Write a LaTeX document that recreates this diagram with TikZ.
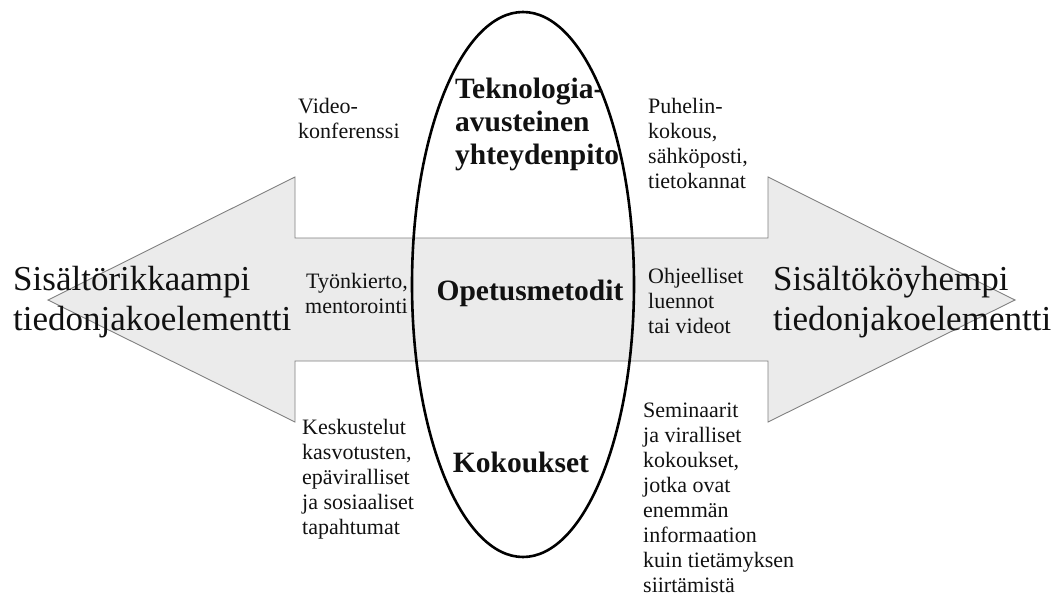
\documentclass[tikz,border=0pt]{standalone}
\usepackage{fontspec}
\setmainfont{Liberation Serif}
\definecolor{arrowfill}{HTML}{EBEBEB}
\definecolor{arrowline}{HTML}{808080}
\definecolor{ink}{HTML}{111111}
\begin{document}
\begin{tikzpicture}[x=1pt,y=-1pt,
  small/.style={font=\fontsize{22}{25}\selectfont, inner sep=0pt, text=ink, align=left},
  big/.style={font=\fontsize{35}{40}\selectfont, inner sep=0pt, text=ink, align=left},
  heading/.style={font=\bfseries\fontsize{29.5}{33}\selectfont, inner sep=0pt, text=ink, align=left}]
\useasboundingbox (0,0) rectangle (1058,597);

% double-headed block arrow
\draw[arrowline, fill=arrowfill, line width=0.9pt, line join=miter]
  (48,300) -- (295,177) -- (295,238) -- (768,238) -- (768,177) -- (1015,300)
  -- (768,422) -- (768,361) -- (295,361) -- (295,422) -- cycle;

% central ellipse
\draw[black, line width=2.6pt] (523,284.5) ellipse [x radius=111, y radius=272.5];

% end labels (anchored on the baseline of their last line)
\node[big, anchor=base west] (rich) at (13,330) {Sisältörikkaampi\\tiedonjakoelementti};
\node[big, anchor=base west] (poor) at (773,330) {Sisältököyhempi\\tiedonjakoelementti};

% category headings
\node[heading, anchor=base west] (tech) at (455,164) {Teknologia-\\avusteinen\\yhteydenpito};
\node[heading, anchor=base] (teach) at (530,300) {Opetusmetodit};
\node[heading, anchor=base] (meet) at (521,472) {Kokoukset};

% examples, richer side
\node[small, anchor=base west] (video) at (298,138) {Video-\\konferenssi};
\node[small, anchor=base east, align=right] (rotation) at (408,313) {Työnkierto,\\mentorointi};
\node[small, anchor=base west] (talks) at (302,534) {Keskustelut\\kasvotusten,\\epäviralliset\\ja sosiaaliset\\tapahtumat};

% examples, poorer side
\node[small, anchor=base west] (phone) at (648,188) {Puhelin-\\kokous,\\sähköposti,\\tietokannat};
\node[small, anchor=base west] (lectures) at (648,333) {Ohjeelliset\\luennot\\tai videot};
\node[small, anchor=base west] (seminars) at (643,592) {Seminaarit\\ja viralliset\\kokoukset,\\jotka ovat\\enemmän\\informaation\\kuin tietämyksen\\siirtämistä};
\end{tikzpicture}
\end{document}
